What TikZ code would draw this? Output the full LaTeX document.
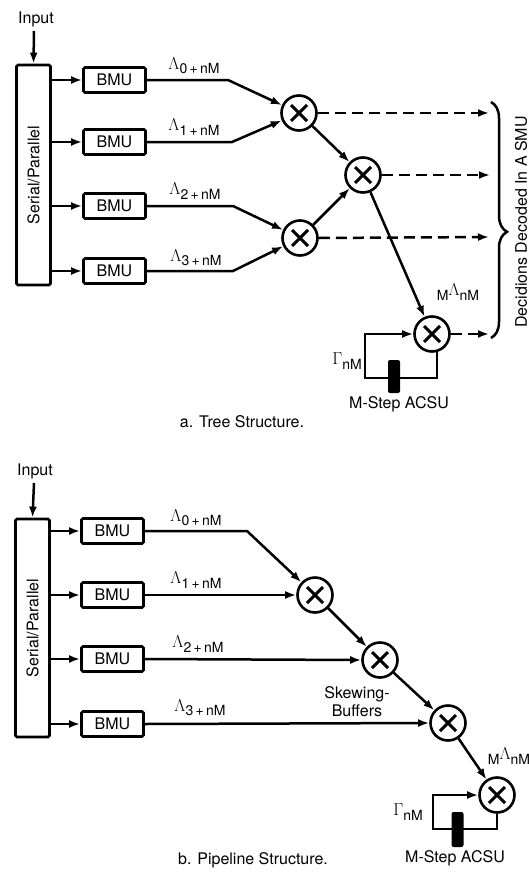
\documentclass[tikz,border=0pt]{standalone}
\usepackage{fontspec}
\setmainfont{TeX Gyre Heros}
\usetikzlibrary{arrows.meta,decorations.pathreplacing}
\newcommand{\subt}[1]{\raisebox{-0.5ex}{\fontsize{14}{14}\selectfont #1}}
\newcommand{\biglam}{{\fontsize{17}{17}\selectfont$\Lambda$}}
\newcommand{\lbl}[1]{\biglam\subt{#1\,+\,nM}}
\begin{document}
\begin{tikzpicture}[x=1pt,y=-1pt,
  font=\fontsize{16}{18}\selectfont,
  arr/.style={line width=2.5pt,-{Latex[length=11pt,width=8pt]}},
  dsh/.style={arr,dash pattern=on 11pt off 6pt},
  bmu/.style={draw,line width=2.8pt,rounded corners=1.5pt,minimum width=62pt,minimum height=25pt,inner sep=0pt},
  spbox/.style={draw,line width=2.8pt,rounded corners=1.5pt,minimum width=34pt,inner sep=0pt},
  mult/.style={circle,draw,line width=2.6pt,minimum size=35pt,inner sep=0pt,
    path picture={
      \draw[line width=3pt] ([shift={(-8,-8)}]path picture bounding box.center) -- ([shift={(8,8)}]path picture bounding box.center);
      \draw[line width=3pt] ([shift={(-8,8)}]path picture bounding box.center) -- ([shift={(8,-8)}]path picture bounding box.center);}},
  regbar/.style={fill=black,rounded corners=2pt,minimum width=12pt,inner sep=0pt},
  lab/.style={inner sep=0pt}
]
\useasboundingbox (0,0) rectangle (529,878);

% ================= a. Tree structure =================
\node[lab] (in1) at (36,19) {Input};
\node[spbox,minimum height=220pt] (sp1) at (33.5,175) {};
\node[lab,rotate=90] (sp1t) at (sp1.center) {Serial/Parallel};
\draw[arr] (34,31) -- (sp1.north);

\node[bmu] (a1) at (114.5,80) {BMU};
\node[bmu] (a2) at (114.5,142) {BMU};
\node[bmu] (a3) at (114.5,206) {BMU};
\node[bmu] (a4) at (114.5,271) {BMU};
\foreach \b in {a1,a2,a3,a4} \draw[arr] (\b.west -| sp1.east) -- (\b.west);

\node[lab] (la0) at (194,66) {\lbl{0}};
\node[lab] (la1) at (194,127) {\lbl{1}};
\node[lab] (la2) at (195,191) {\lbl{2}};
\node[lab] (la3) at (196,258) {\lbl{3}};

\node[mult] (c1) at (299,113) {};
\node[mult] (c2) at (363,175) {};
\node[mult] (c3) at (300,238) {};
\node[mult] (c4) at (432,334) {};

\coordinate (k1) at (228,80);
\coordinate (k2) at (232,142);
\coordinate (k3) at (233,206);
\coordinate (k4) at (233,271);
\draw[arr] (a1.east) -- (k1) -- (c1);
\draw[arr] (a2.east) -- (k2) -- (c1);
\draw[arr] (a3.east) -- (k3) -- (c3);
\draw[arr] (a4.east) -- (k4) -- (c3);
\draw[arr] (c1) -- (c2);
\draw[arr] (c3) -- (c2);
\draw[arr] (c2) -- (c4);

\coordinate (e1) at (489,113);
\coordinate (e2) at (490,175);
\coordinate (e3) at (489,237);
\coordinate (e4) at (489,334);
\draw[dsh] (c1.east) -- (e1);
\draw[dsh] (c2.east) -- (e2);
\draw[dsh] (c3.east) -- (e3);
\draw[dsh] (c4.east) -- (e4);

\coordinate (bt) at (491,102);
\coordinate (bb) at (491,338);
\draw[line width=2.5pt,decorate,decoration={brace,amplitude=16pt,aspect=0.55}] (bt) -- (bb);
\node[lab,rotate=90] (dec) at (521,222) {Decidions Decoded In A SMU};

\node[lab] (mla) at (458,292) {\subt{M}\biglam\subt{nM}};
\coordinate (t1) at (365,378);
\draw[arr] (c4.-75) |- (t1) |- (c4.west);
\node[regbar,minimum height=33pt] (r1) at (394,376.5) {};
\node[lab] (g1) at (347,361) {{\fontsize{17}{17}\selectfont$\Gamma$}\subt{nM}};
\node[lab] (ms1) at (399,404) {M-Step ACSU};
\node[lab] (capa) at (242,422) {a. Tree Structure.};

% ================= b. Pipeline structure =================
\node[lab] (in2) at (35,471) {Input};
\node[spbox,minimum height=218pt] (sp2) at (32.5,628) {};
\node[lab,rotate=90] (sp2t) at (sp2.center) {Serial/Parallel};
\draw[arr] (34,483) -- (sp2.north);

\node[bmu] (b1) at (112.5,531) {BMU};
\node[bmu] (b2) at (112.5,595) {BMU};
\node[bmu] (b3) at (112.5,659) {BMU};
\node[bmu] (b4) at (112.5,724) {BMU};
\foreach \b in {b1,b2,b3,b4} \draw[arr] (\b.west -| sp2.east) -- (\b.west);

\node[lab] (lb0) at (196,518) {\lbl{0}};
\node[lab] (lb1) at (196,580) {\lbl{1}};
\node[lab] (lb2) at (198,644) {\lbl{2}};
\node[lab] (lb3) at (200,708) {\lbl{3}};

\node[mult] (p1) at (315,595) {};
\node[mult] (p2) at (380,660) {};
\node[mult] (p3) at (448,723) {};
\node[mult] (p4) at (497,795) {};

\coordinate (q1) at (247,531);
\draw[arr] (b1.east) -- (q1) -- (p1);
\draw[arr] (b2.east) -- (p1.west);
\draw[arr] (b3.east) -- (p2.west);
\draw[arr] (b4.east) -- (p3.west);
\draw[arr] (p1) -- (p2);
\draw[arr] (p2) -- (p3);
\draw[arr] (p3) -- (p4);

\node[lab,align=center] (skw) at (357,702) {Skewing-\\Buffers};
\node[lab] (mlb) at (509,756) {\subt{M}\biglam\subt{nM}};

\coordinate (t2) at (433,829);
\draw[arr] (p4.south) |- (t2) |- (p4.west);
\node[regbar,minimum height=35pt] (r2) at (457.5,829.5) {};
\node[lab] (g2) at (408,812) {{\fontsize{17}{17}\selectfont$\Gamma$}\subt{nM}};
\node[lab] (ms2) at (455,858) {M-Step ACSU};
\node[lab] (capb) at (253,860) {b. Pipeline Structure.};
\end{tikzpicture}
\end{document}
